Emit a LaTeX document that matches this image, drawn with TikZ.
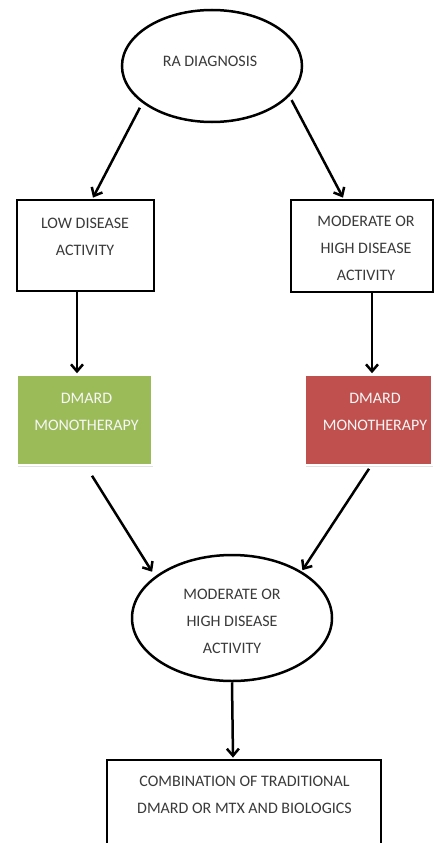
\documentclass[tikz,border=0pt]{standalone}
\usepackage{fontspec}
\setmainfont{Carlito}
\usetikzlibrary{shapes.geometric,arrows.meta,calc,shadows}
\definecolor{dgreen}{HTML}{9BBB59}
\definecolor{dred}{HTML}{C0504D}
\definecolor{txtgray}{HTML}{3A3A3A}
\begin{document}
\begin{tikzpicture}[x=1pt,y=-1pt,
 oval/.style={draw=black,line width=2.5pt,ellipse,inner sep=0pt},
 plainbox/.style={draw=black,line width=2.8pt,rectangle,inner sep=0pt},
 fillbox/.style={draw=white,line width=1.5pt,rectangle,inner sep=0pt,
   drop shadow={shadow xshift=1pt,shadow yshift=-1.5pt,fill=gray!45}},
 lbl/.style={text=txtgray,font=\fontsize{16}{27}\selectfont,align=center,inner sep=0pt},
 wlbl/.style={lbl,text=white!94!gray},
 arr/.style={draw=black,line width=2.5pt,-{Straight Barb[length=7pt,width=12pt,line width=2.5pt]}}
]
\clip (0,0) rectangle (435,843);
\fill[white] (0,0) rectangle (435,843);

% nodes
\node[oval,minimum width=180pt,minimum height=112pt] (ra) at (212,66) {};
\node[lbl] (ratxt) at (210,61) {RA DIAGNOSIS};

\node[plainbox,minimum width=137pt,minimum height=91pt] (low) at (85.5,245.5) {};
\node[lbl] (lowtxt) at (85,236.5) {LOW DISEASE\\ACTIVITY};

\node[plainbox,minimum width=142pt,minimum height=92pt] (mod) at (362,246) {};
\node[lbl] (modtxt) at (366,248.5) {MODERATE OR\\HIGH DISEASE\\ACTIVITY};

\node[fillbox,fill=dgreen,minimum width=135pt,minimum height=90pt] (green) at (84.5,420) {};
\node[wlbl] (greentxt) at (86.5,411.5) {DMARD\\MONOTHERAPY};

\node[fillbox,fill=dred,minimum width=127pt,minimum height=90pt] (red) at (368.5,420) {};
\node[wlbl] (redtxt) at (375,411.5) {DMARD\\MONOTHERAPY};

\node[oval,minimum width=200pt,minimum height=126pt] (mid) at (232,618) {};
\node[lbl] (midtxt) at (232,621) {MODERATE OR\\HIGH DISEASE\\ACTIVITY};

\node[plainbox,minimum width=274pt,minimum height=120pt] (comb) at (244,820) {};
\node[lbl] (combtxt) at (244.5,795) {COMBINATION OF TRADITIONAL\\DMARD OR MTX AND BIOLOGICS};

% connectors
\draw[arr] ([shift={(-5,3)}]ra.210) -- ([shift={(7.5,-1)}]low.north);
\draw[arr] ([shift={(4,2)}]ra.337) -- ([shift={(-19,-1)}]mod.north);
\draw[arr] ([shift={(-8.5,0)}]low.south) -- ([shift={(-7.5,-1)}]green.north);
\draw[arr] ([shift={(10,0)}]mod.south) -- ([shift={(3.5,-1)}]red.north);
\draw[arr] ([shift={(7.5,10)}]green.south) -- ([shift={(-5,-3)}]mid.150);
\draw[arr] ([shift={(0.5,3)}]red.south) -- ([shift={(1,-1)}]mid.34);
\draw[arr] (mid.south) -- ([shift={(-11,-1)}]comb.north);
\end{tikzpicture}
\end{document}
